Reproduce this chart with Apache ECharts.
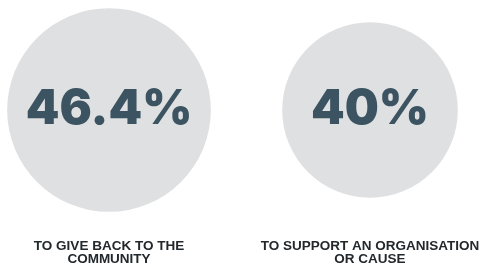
<!DOCTYPE html>
<html>
<head>
<meta charset="utf-8">
<script src="https://cdn.jsdelivr.net/npm/echarts@6/dist/echarts.min.js"></script>
<style>
	html, body { margin: 0; padding: 0; background: #fff; }
	#bubble-chart { width: 479px; height: 265px; }
</style>
</head>
<body>
<div id="bubble-chart"></div>
<script>
// 数据
var categories = ['TO GIVE BACK TO THE\nCOMMUNITY', 'TO SUPPORT AN ORGANISATION\nOR CAUSE'];
var percents = [46.4, 40];

var seriesData = [];
for (var i = 0; i < percents.length; i++) {
	seriesData.push([i, 0, percents[i]]);
}

var myChart = echarts.init(document.getElementById('bubble-chart'));
var option = {
	animation: false,
	grid: {
		left: 109,
		right: 109,
		top: 0,
		bottom: 45,
		outerBoundsMode: 'none'
	},
	xAxis: {
		type: 'category',
		data: categories,
		boundaryGap: false,
		axisLine: { show: false },
		axisTick: { show: false },
		splitLine: { show: false },
		axisLabel: {
			interval: 0,
			margin: 20,
			lineHeight: 13,
			fontFamily: 'Liberation Sans',
			fontWeight: 'bold',
			fontSize: 13.5,
			color: '#22282c'
		}
	},
	yAxis: {
		type: 'value',
		min: -1,
		max: 1,
		show: false
	},
	series: [
		{
			type: 'scatter',
			data: seriesData,
			symbol: 'circle',
			symbolSize: function(val) {
				return val[2] * 4.39;// 半径与百分比成正比
			},
			itemStyle: { color: '#dfe0e2', opacity: 1 },
			label: {
				show: true,
				position: 'inside',
				formatter: function(p) {
					return p.value[2] + '%';
				},
				fontFamily: 'Inter',
				fontWeight: 900,
				fontSize: 48,
				color: '#3c5461'
			}
		}
	]
};
myChart.setOption(option);//渲染数据
</script>
</body>
</html>
